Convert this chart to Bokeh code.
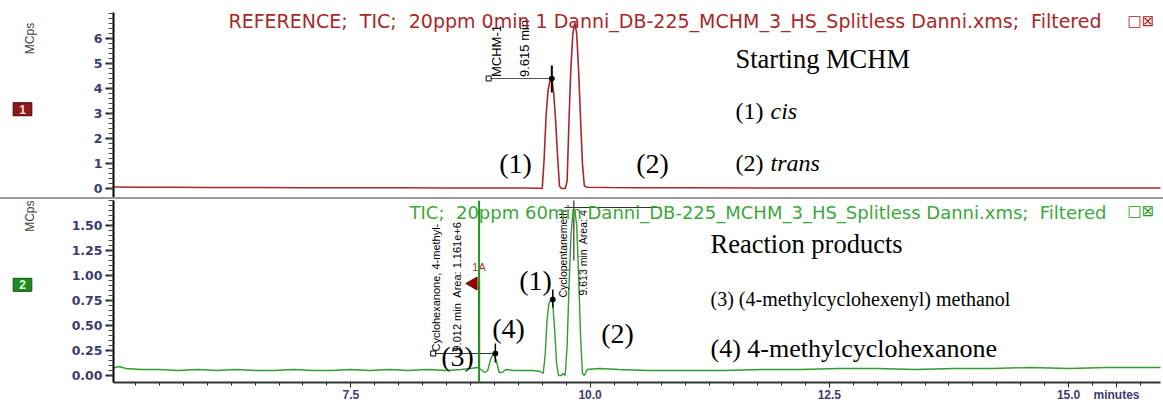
import math
from bokeh.plotting import figure
from bokeh.models import FixedTicker, Label, Span, Range1d, Div, NumeralTickFormatter
from bokeh.layouts import column, row
from bokeh.embed import file_html
from bokeh.resources import INLINE
from bokeh.core.properties import value

# ---------------- data ----------------
top_time = [5.00, 5.30, 5.60, 6.00, 6.50, 7.00, 7.50, 8.00, 8.50, 9.00, 9.30, 9.46, 9.50,
            9.52, 9.54, 9.56, 9.58, 9.60, 9.62, 9.64, 9.66, 9.68, 9.70, 9.74,
            9.76, 9.78, 9.80, 9.82, 9.84, 9.86, 9.88, 9.90, 9.92, 9.94, 9.97,
            10.20, 10.50, 11.00, 12.00, 13.00, 14.00, 15.00, 16.00]
top_mcps = [0.06, 0.05, 0.05, 0.04, 0.04, 0.03, 0.03, 0.03, 0.02, 0.02, 0.02, 0.01, 0.00,
            1.20, 2.90, 3.90, 4.30, 4.40, 3.80, 2.70, 1.30, 0.10, 0.00, 0.00,
            0.30, 2.80, 4.90, 6.20, 6.64, 6.20, 4.70, 2.80, 1.00, 0.10, 0.05,
            0.04, 0.03, 0.03, 0.02, 0.02, 0.02, 0.02, 0.02]

bot_time = [5.00, 5.08, 5.15, 5.30, 5.50, 5.70, 5.90, 6.10, 6.30, 6.50,
            6.70, 6.90, 7.10, 7.30, 7.50, 7.70, 7.90, 8.10, 8.30, 8.50,
            8.65, 8.75, 8.82, 8.86, 8.90, 8.93,
            8.96, 8.99, 9.02, 9.05, 9.08, 9.12, 9.20, 9.30, 9.40, 9.48, 9.51,
            9.53, 9.55, 9.57, 9.59, 9.61, 9.63, 9.65, 9.67, 9.70, 9.72, 9.74,
            9.76, 9.78, 9.80, 9.82, 9.84, 9.86, 9.88, 9.90, 9.92, 9.94, 9.97,
            10.10, 10.30, 10.60, 11.00, 11.40, 11.80, 12.20, 12.60, 13.00,
            13.40, 13.80, 14.20, 14.60, 15.00, 15.40, 15.80, 16.00]
bot_mcps = [0.07, 0.09, 0.07, 0.06, 0.06, 0.05, 0.06, 0.05, 0.06, 0.05,
            0.05, 0.06, 0.05, 0.05, 0.06, 0.05, 0.06, 0.05, 0.06, 0.05,
            0.06, 0.07, 0.08, 0.06, 0.03, 0.05,
            0.16, 0.22, 0.15, 0.03, 0.03, 0.06, 0.05, 0.05, 0.05, 0.04, 0.02,
            0.20, 0.55, 0.72, 0.76, 0.72, 0.45, 0.12, 0.00, 0.00, 0.02, 0.00,
            0.30, 0.90, 1.40, 1.62, 1.66, 1.50, 1.00, 0.40, 0.02, 0.00, 0.06,
            0.07, 0.06, 0.05, 0.05, 0.05, 0.06, 0.06, 0.07, 0.07,
            0.06, 0.07, 0.07, 0.08, 0.07, 0.08, 0.08, 0.08]

top_y_ticks = [0, 1, 2, 3, 4, 5, 6]
bot_y_ticks = [0.00, 0.25, 0.50, 0.75, 1.00, 1.25, 1.50]
x_ticks = [7.5, 10.0, 12.5, 15.0]
x_unit_pos = 15.5
x_unit_text = "minutes"

# identified peaks
top_peak_time = [9.60]
top_peak_mcps = [4.40]
top_peak_names = ["MCHM-1"]
top_peak_rt = ["9.615 min"]
bot_peak_time = [9.01, 9.61]
bot_peak_mcps = [0.22, 0.76]
bot_peak_names = ["Cyclohexanone, 4-methyl-", "Cyclopentanemeth"]
bot_peak_rt = ["9.012 min\u00a0 Area: 1.161e+6", "9.613 min\u00a0 Area: 4"]
marker_time = 8.84

TOP_RED = "#a8282a"
GREEN = "#2f9e2f"
TICK_COL = "#3c3c6e"
SERIF = "Liberation Serif"
SANS = "Liberation Sans"
NARROW = "'Liberation Sans Narrow', 'Liberation Sans', sans-serif"
NB = "\u00a0"

G = 62            # width of left gutter figure
FL = 113          # canvas x of the frame's left edge
X0, X1 = 5.02, 15.96


def style_common(p):
    p.xgrid.visible = False
    p.ygrid.visible = False
    p.outline_line_color = None
    p.background_fill_color = "white"
    p.border_fill_color = "white"


def style_yaxis(ax, ticks, minor):
    ax.ticker = FixedTicker(ticks=ticks, minor_ticks=minor)
    ax.axis_line_color = "black"
    ax.axis_line_width = 2
    ax.major_tick_line_color = "#222222"
    ax.major_tick_line_width = 2
    ax.major_tick_out = 8
    ax.major_tick_in = 0
    ax.minor_tick_line_color = "#444444"
    ax.minor_tick_out = 5
    ax.minor_tick_in = 0
    ax.major_label_text_font = "DejaVu Sans"
    ax.major_label_text_font_size = "12.5px"
    ax.major_label_text_font_style = "bold"
    ax.major_label_text_color = TICK_COL
    ax.major_label_standoff = 3


def screen_label(p, frame_bottom, X, Y, text, **kw):
    lab = Label(x=X - FL, y=frame_bottom - Y, x_units="screen", y_units="screen", text=text, **kw)
    p.add_layout(lab)
    return lab


def gutter(height, canvas_top, frame_top, number, fill, border, num_color, box_y):
    g = figure(width=G, height=height, x_range=Range1d(0, G),
               y_range=Range1d(canvas_top + height, canvas_top),
               output_backend="svg", toolbar_location=None,
               min_border_left=0, min_border_right=0, min_border_top=0, min_border_bottom=0)
    style_common(g)
    g.xaxis.visible = False
    g.yaxis.visible = False
    g.add_layout(Label(x=36, y=frame_top, text="MCps", angle=math.pi / 2, text_font=SANS,
                       text_font_size="12px", text_color="#444444", text_align="right",
                       text_baseline="bottom"))
    g.add_layout(Label(x=22, y=box_y, text=number, text_font=SANS, text_font_size="12px",
                       text_font_style="bold", text_color=num_color, text_align="center",
                       text_baseline="middle", background_fill_color=fill,
                       border_line_color=border, padding=(6, 2)))
    return g


# ---------------- top panel ----------------
top = figure(width=1163 - G, height=197, x_range=Range1d(X0, X1), y_range=Range1d(-0.36, 7.04),
             output_backend="svg", toolbar_location=None,
             min_border_left=FL - G, min_border_right=3, min_border_top=12, min_border_bottom=0)
style_common(top)
top.xaxis.visible = False
style_yaxis(top.yaxis[0], top_y_ticks, [i * 0.2 for i in range(0, 36)])

top.line(top_time, top_mcps, line_color=TOP_RED, line_width=1.6)

top.segment(x0=[8.94], y0=top_peak_mcps, x1=top_peak_time, y1=top_peak_mcps, line_color="#555555", line_width=1.2)
top.segment(x0=top_peak_time, y0=[3.84], x1=top_peak_time, y1=[4.92], line_color="black", line_width=2)
top.scatter(top_peak_time, top_peak_mcps, size=5, color="black")
top.scatter([8.94], top_peak_mcps, marker="square", size=5, fill_color="white", line_color="black")
top.text(x=[9.10, 9.39], y=[4.46, 4.46], text=[top_peak_names[0], top_peak_rt[0]], angle=math.pi / 2,
         text_font=value(NARROW), text_font_size="13px", text_align="left", text_baseline="bottom",
         text_color="black")

FB_TOP = 197
screen_label(top, FB_TOP, 1101, 20,
             "REFERENCE;" + NB + " TIC;" + NB + " 20ppm 0min 1 Danni_DB-225_MCHM_3_HS_Splitless Danni.xms;" + NB + " Filtered",
             text_font="DejaVu Sans", text_font_size="19px", text_color=TOP_RED, text_align="right",
             text_baseline="middle")
screen_label(top, FB_TOP, 1127, 20, "\u25a1\u22a0", text_font="DejaVu Sans", text_font_size="15px",
             text_color=TOP_RED, text_align="left", text_baseline="middle")

screen_label(top, FB_TOP, 515, 163, "(1)", text_font=SERIF, text_font_size="28px", text_color="black",
             text_align="center", text_baseline="middle")
screen_label(top, FB_TOP, 652, 163, "(2)", text_font=SERIF, text_font_size="28px", text_color="black",
             text_align="center", text_baseline="middle")
screen_label(top, FB_TOP, 735, 58, "Starting MCHM", text_font=SERIF, text_font_size="26.5px", text_color="black",
             text_align="left", text_baseline="middle")
screen_label(top, FB_TOP, 735, 110, "(1)", text_font=SERIF, text_font_size="24px", text_color="black",
             text_align="left", text_baseline="middle")
screen_label(top, FB_TOP, 770, 110, "cis", text_font=SERIF, text_font_size="24px", text_font_style="italic",
             text_color="black", text_align="left", text_baseline="middle")
screen_label(top, FB_TOP, 735, 162, "(2)", text_font=SERIF, text_font_size="24px", text_color="black",
             text_align="left", text_baseline="middle")
screen_label(top, FB_TOP, 770, 162, "trans", text_font=SERIF, text_font_size="24px", text_font_style="italic",
             text_color="black", text_align="left", text_baseline="middle")

g_top = gutter(197, 0, 11, "1", "#8b1a1a", "#5a0000", "#ffe0e0", 103)

sep = Div(width=1163, height=2, margin=(0, 0, 0, 0), styles={"background-color": "#9a9a9a"})

# ---------------- bottom panel ----------------
# frame spans canvas y 200..382 (the x axis needs about 22 px below it)
bot = figure(width=1163 - G, height=205, x_range=Range1d(X0, X1), y_range=Range1d(-0.07, 1.75),
             output_backend="svg", toolbar_location=None,
             min_border_left=FL - G, min_border_right=3, min_border_top=1, min_border_bottom=19)
style_common(bot)
style_yaxis(bot.yaxis[0], bot_y_ticks, [i * 0.05 for i in range(0, 36)])
bot.yaxis[0].formatter = NumeralTickFormatter(format="0.00")

xa = bot.xaxis[0]
xa.ticker = FixedTicker(ticks=x_ticks + [x_unit_pos], minor_ticks=[5.0 + i * 0.25 for i in range(0, 45)])
xa.formatter = NumeralTickFormatter(format="0.0")
xa.major_label_overrides = {x_unit_pos: x_unit_text}
xa.axis_line_color = "#333333"
xa.axis_line_width = 2
xa.major_tick_out = 5
xa.major_tick_in = 0
xa.minor_tick_out = 3
xa.minor_tick_in = 0
xa.major_tick_line_color = "#222222"
xa.minor_tick_line_color = "#222222"
xa.major_label_text_font = "Liberation Sans"
xa.major_label_text_font_size = "12px"
xa.major_label_text_font_style = "bold"
xa.major_label_text_color = TICK_COL
xa.major_label_standoff = 0

bot.add_layout(Span(location=marker_time, dimension="height", line_color="#1a9a1a", line_width=2))
bot.line(bot_time, bot_mcps, line_color=GREEN, line_width=1.4)

bot.segment(x0=[marker_time], y0=[0.08], x1=[marker_time], y1=[0.93], line_color="#8b0000", line_width=2)
bot.scatter([8.78], [0.92], marker="triangle", angle=math.pi / 2, size=13, color="#8b0000")
bot.text(x=[marker_time], y=[1.03], text=["1A"], text_font=value(SANS), text_font_size="11px",
         text_color="#c03030", text_align="center", text_baseline="bottom")

bot.segment(x0=[8.36], y0=[bot_peak_mcps[0]], x1=[bot_peak_time[0]], y1=[bot_peak_mcps[0]],
            line_color="#333333", line_width=1.2)
bot.scatter([8.36], [bot_peak_mcps[0]], marker="square", size=5, fill_color="white", line_color="black")
bot.segment(x0=[bot_peak_time[0]], y0=[0.13], x1=[bot_peak_time[0]], y1=[0.32], line_color="black", line_width=1.5)
bot.segment(x0=[bot_peak_time[1]], y0=[0.68], x1=[bot_peak_time[1]], y1=[0.86], line_color="black", line_width=1.5)
bot.scatter(bot_peak_time, bot_peak_mcps, size=5, color="black")
bot.segment(x0=[9.73], y0=[1.68], x1=[10.74], y1=[1.68], line_color="#333333", line_width=1.2)
bot.segment(x0=[9.83], y0=[1.15], x1=[9.83], y1=[1.76], line_color="#333333", line_width=1.2)
bot.text(x=[8.45, 8.67], y=[0.24, 0.24], text=[bot_peak_names[0], bot_peak_rt[0]], angle=math.pi / 2,
         text_font=value(NARROW), text_font_size="11px", text_align="left", text_baseline="bottom",
         text_color="black")
bot.text(x=[9.78, 9.99], y=[0.78, 0.80], text=[bot_peak_names[1], bot_peak_rt[1]], angle=math.pi / 2,
         text_font=value(NARROW), text_font_size="10.5px", text_align="left", text_baseline="bottom",
         text_color="black")

FB_BOT = 382
screen_label(bot, FB_BOT, 1106, 201,
             "TIC;" + NB + " 20ppm 60min Danni_DB-225_MCHM_3_HS_Splitless Danni.xms;" + NB + " Filtered",
             text_font="DejaVu Sans", text_font_size="18px", text_color="#3aa83a", text_align="right",
             text_baseline="top")
screen_label(bot, FB_BOT, 1127, 201, "\u25a1\u22a0", text_font="DejaVu Sans", text_font_size="15px",
             text_color="#2a9a2a", text_align="left", text_baseline="top")

serif_kw = dict(text_font=SERIF, text_color="black", text_baseline="middle")
screen_label(bot, FB_BOT, 535, 280, "(1)", text_font_size="28px", text_align="center", **serif_kw)
screen_label(bot, FB_BOT, 508, 328, "(4)", text_font_size="28px", text_align="center", **serif_kw)
screen_label(bot, FB_BOT, 457, 356, "(3)", text_font_size="28px", text_align="center", **serif_kw)
screen_label(bot, FB_BOT, 617, 333, "(2)", text_font_size="28px", text_align="center", **serif_kw)
screen_label(bot, FB_BOT, 710, 243, "Reaction products", text_font_size="26.5px", text_align="left", **serif_kw)
screen_label(bot, FB_BOT, 710, 298, "(3) (4-methylcyclohexenyl) methanol", text_font_size="20px",
             text_align="left", **serif_kw)
screen_label(bot, FB_BOT, 710, 348, "(4) 4-methylcyclohexanone", text_font_size="26px", text_align="left", **serif_kw)

g_bot = gutter(205, 199, 199, "2", "#1f8a1f", "#0a5a0a", "#e0ffe0", 294)

layout = column(row(g_top, top, spacing=0), sep, row(g_bot, bot, spacing=0), spacing=0)
open("out.html", "w").write(file_html(layout, INLINE))
